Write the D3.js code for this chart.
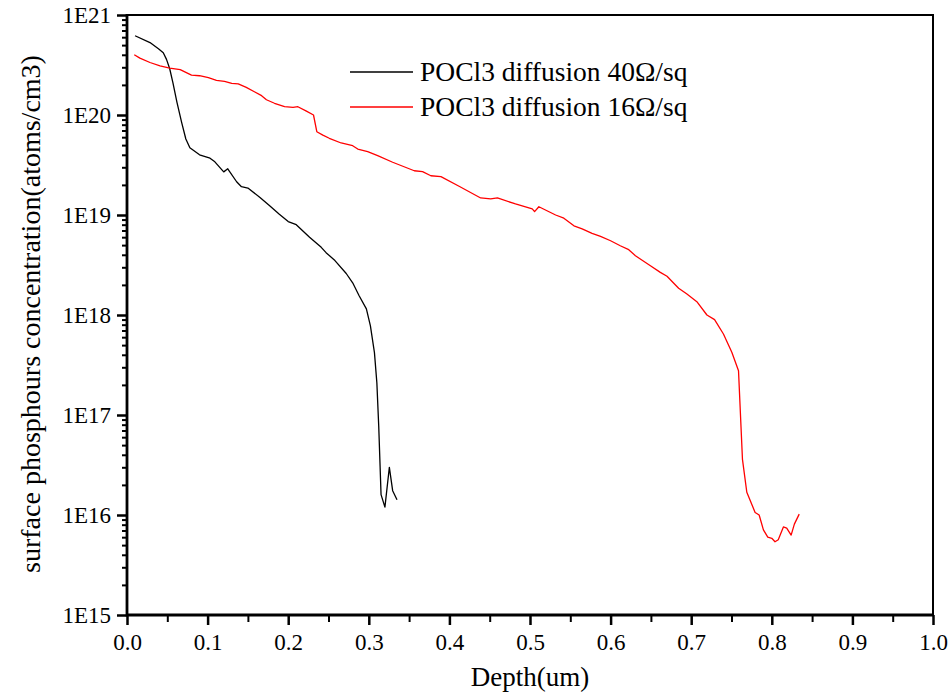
<!DOCTYPE html>
<html>
<head>
<meta charset="utf-8">
<script src="https://cdn.jsdelivr.net/npm/d3@7"></script>
<style>
   body { margin: 0; background: #fff; }
   svg { display: block; }
   svg text { font-family: "Liberation Serif", "DejaVu Serif", serif; }
</style>
</head>
<body>
<svg width="948" height="692"></svg>
<script>
// 40 ohm/sq profile (black)
var depth40 = [0.010, 0.0285, 0.039, 0.045, 0.049, 0.053, 0.057, 0.062, 0.0677, 0.073, 0.078, 0.090, 0.103, 0.109,
   0.120, 0.125, 0.136, 0.142, 0.150, 0.165, 0.177, 0.189, 0.200, 0.210, 0.2265, 0.241, 0.247, 0.258, 0.272, 0.280,
   0.288, 0.297, 0.302, 0.307, 0.310, 0.3123, 0.3152, 0.320, 0.3255, 0.3296, 0.335];
var conc40 = [6.2e20, 5.3e20, 4.6e20, 4.2e20, 3.6e20, 2.9e20, 2.1e20, 1.34e20, 8.5e19, 5.75e19, 4.7e19, 4.0e19, 3.7e19, 3.4e19,
   2.7e19, 2.9e19, 2.15e19, 1.92e19, 1.86e19, 1.5e19, 1.24e19, 1.02e19, 8.6e18, 8.0e18, 6.0e18, 4.75e18, 4.2e18, 3.5e18, 2.6e18, 2.1e18,
   1.56e18, 1.15e18, 7.8e17, 4.2e17, 2.1e17, 7.8e16, 1.6e16, 1.2e16, 3.0e16, 1.75e16, 1.42e16];

// 16 ohm/sq profile (red)
var depth16 = [0.009, 0.016, 0.0285, 0.041, 0.053, 0.066, 0.080, 0.090, 0.101, 0.111, 0.121, 0.130, 0.138, 0.148,
   0.158, 0.167, 0.173, 0.183, 0.1955, 0.206, 0.212, 0.222, 0.2314, 0.2355, 0.243, 0.251, 0.2657, 0.280, 0.2863, 0.2986,
   0.311, 0.3296, 0.3564, 0.3667, 0.377, 0.3895, 0.412, 0.4388, 0.4512, 0.4596, 0.482, 0.5028, 0.5057, 0.511,
   0.5318, 0.542, 0.5545, 0.5647, 0.577, 0.5875, 0.600, 0.612, 0.6225, 0.6308, 0.6494, 0.6617, 0.670, 0.6844,
   0.6947, 0.707, 0.7195, 0.729, 0.740, 0.7504, 0.7587, 0.7636, 0.769, 0.7793, 0.7843, 0.7896, 0.795, 0.800,
   0.804, 0.808, 0.8144, 0.8185, 0.824, 0.828, 0.834];
var conc16 = [4.0e20, 3.7e20, 3.35e20, 3.1e20, 2.95e20, 2.84e20, 2.5e20, 2.47e20, 2.36e20, 2.22e20, 2.17e20, 2.07e20, 2.05e20, 1.89e20,
   1.71e20, 1.56e20, 1.42e20, 1.31e20, 1.21e20, 1.19e20, 1.21e20, 1.1e20, 1.0e20, 6.8e19, 6.3e19, 5.85e19, 5.25e19, 4.93e19, 4.57e19, 4.3e19,
   3.92e19, 3.37e19, 2.77e19, 2.71e19, 2.47e19, 2.42e19, 1.94e19, 1.48e19, 1.45e19, 1.48e19, 1.29e19, 1.15e19, 1.08e19, 1.21e19,
   1.0e19, 9.3e18, 7.8e18, 7.25e18, 6.56e18, 6.12e18, 5.53e18, 4.93e18, 4.5e18, 3.92e18, 3.11e18, 2.67e18, 2.44e18, 1.85e18,
   1.62e18, 1.36e18, 1.0e18, 8.98e17, 6.46e17, 4.24e17, 2.77e17, 3.6e16, 1.69e16, 1.06e16, 1.0e16, 7.1e15, 6.0e15, 5.85e15,
   5.4e15, 5.66e15, 7.6e15, 7.4e15, 6.3e15, 8.1e15, 1.02e16];

var xTicks = [0, 0.1, 0.2, 0.3, 0.4, 0.5, 0.6, 0.7, 0.8, 0.9, 1.0];
var yTicks = [1e15, 1e16, 1e17, 1e18, 1e19, 1e20, 1e21];
var yTickLabels = ['1E15', '1E16', '1E17', '1E18', '1E19', '1E20', '1E21'];
var seriesNames = ['POCl3 diffusion 40\u03A9/sq', 'POCl3 diffusion 16\u03A9/sq'];
var seriesColors = ['#000000', '#ff0000'];

(function () {
   var svg = d3.select('svg');
   var serif = '"Liberation Serif", "DejaVu Serif", serif';
   var left = 127, right = 933, top = 15, bottom = 615;

   var x = d3.scaleLinear().domain([0, 1]).range([left, right]);
   var y = d3.scaleLog().domain([1e15, 1e21]).range([bottom, top]);

   // minor ticks: halfway between the labelled x ticks, 2..9 in every decade
   var xMinor = xTicks.slice(0, -1).map(function (v) { return v + 0.05; });
   var yMinor = [];
   yTicks.slice(0, -1).forEach(function (base) {
      for (var k = 2; k <= 9; k++) yMinor.push(base * k);
   });

   function plain(g, width) {
      g.attr('font-family', serif).attr('font-size', 23);
      g.select('.domain').remove();
      g.selectAll('line').attr('stroke-width', width);
      g.selectAll('text').attr('font-family', serif).attr('font-size', 23).attr('fill', '#000');
   }

   svg.append('g')
      .attr('transform', 'translate(0,' + bottom + ')')
      .call(d3.axisBottom(x).tickValues(xMinor).tickSize(7).tickFormat(''))
      .call(plain, 2);

   svg.append('g')
      .attr('transform', 'translate(' + left + ',0)')
      .call(d3.axisLeft(y).tickValues(yMinor).tickSize(5).tickFormat(''))
      .call(plain, 2);

   svg.append('g')
      .attr('transform', 'translate(0,' + bottom + ')')
      .call(d3.axisBottom(x).tickValues(xTicks).tickSize(10).tickPadding(9).tickFormat(d3.format('.1f')))
      .call(plain, 2.5);

   svg.append('g')
      .attr('transform', 'translate(' + left + ',0)')
      .call(d3.axisLeft(y).tickValues(yTicks).tickSize(10).tickPadding(6)
         .tickFormat(function (d, i) { return yTickLabels[i]; }))
      .call(plain, 2.5);

   // frame
   svg.append('path')
      .attr('d', 'M' + left + ',' + top + 'H' + right + 'V' + bottom)
      .attr('fill', 'none').attr('stroke', '#000').attr('stroke-width', 2);
   svg.append('path')
      .attr('d', 'M' + left + ',' + (top - 1) + 'V' + bottom + 'H' + (right + 1))
      .attr('fill', 'none').attr('stroke', '#000').attr('stroke-width', 2.8);

   var line = d3.line()
      .x(function (d) { return x(d[0]); })
      .y(function (d) { return y(d[1]); });

   var series = [d3.zip(depth40, conc40), d3.zip(depth16, conc16)];
   svg.selectAll('.serie').data(series).enter().append('path')
      .attr('class', 'serie')
      .attr('d', line)
      .attr('fill', 'none')
      .attr('stroke', function (d, i) { return seriesColors[i]; })
      .attr('stroke-width', 1.3)
      .attr('stroke-linejoin', 'round');

   // legend
   var legend = svg.selectAll('.legend').data(seriesNames).enter().append('g')
      .attr('class', 'legend')
      .attr('transform', function (d, i) { return 'translate(350,' + (72 + i * 35) + ')'; });
   legend.append('line')
      .attr('x1', 0).attr('x2', 63)
      .attr('stroke', function (d, i) { return seriesColors[i]; })
      .attr('stroke-width', 1.3);
   legend.append('text')
      .attr('x', 70).attr('y', 9)
      .attr('font-family', serif)
      .attr('font-size', 27.5)
      .text(function (d) { return d; });

   svg.append('text')
      .attr('x', (left + right) / 2).attr('y', 686)
      .attr('text-anchor', 'middle')
      .attr('font-family', serif).attr('font-size', 27)
      .text('Depth(um)');

   svg.append('text')
      .attr('transform', 'translate(40,314) rotate(-90)')
      .attr('text-anchor', 'middle')
      .attr('font-family', serif).attr('font-size', 28)
      .text('surface phosphours concentration(atoms/cm3)');
})();
</script>
</body>
</html>
